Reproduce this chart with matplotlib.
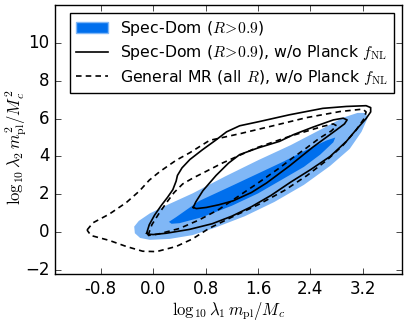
import numpy as np
import matplotlib
matplotlib.use('Agg')
import matplotlib.pyplot as plt
from matplotlib.patches import Patch
from matplotlib.lines import Line2D

# Contour outlines (x = log10 lambda1, y = log10 lambda2)
spec95_x = [-0.29, -0.28, -0.20, -0.05, 0.25, 0.60, 0.95, 1.40, 1.85, 2.30, 2.70, 3.00, 3.18, 3.27, 3.25, 3.12, 2.90, 2.60, 2.10, 1.60, 1.10, 0.60, 0.25, -0.05, -0.22]
spec95_y = [0.30, -0.05, -0.30, -0.40, -0.35, -0.15, 0.25, 0.85, 1.60, 2.50, 3.50, 4.40, 5.30, 6.00, 6.30, 6.30, 6.05, 5.50, 4.60, 3.80, 2.95, 2.05, 1.50, 1.00, 0.60]

spec68_x = [0.24, 0.35, 0.70, 1.20, 1.60, 2.00, 2.40, 2.65, 2.78, 2.75, 2.55, 2.30, 1.90, 1.60, 1.20, 0.75, 0.40, 0.28]
spec68_y = [0.55, 0.80, 1.65, 2.45, 3.10, 3.75, 4.45, 4.85, 5.00, 4.75, 4.10, 3.45, 2.65, 2.05, 1.40, 0.80, 0.48, 0.45]

noplanck95_x = [-0.10, -0.06, 0.02, 0.12, 0.22, 0.30, 0.35, 0.37, 0.44, 0.56, 0.75, 0.95, 1.12, 1.32, 1.63, 2.08, 2.59, 2.95, 3.25, 3.32, 3.32, 3.25, 3.12, 2.95, 2.70, 2.40, 2.10, 1.80, 1.50, 1.20, 0.90, 0.55, 0.20, 0.00, -0.08, -0.10]
noplanck95_y = [-0.05, 0.40, 0.90, 1.40, 1.85, 2.25, 2.70, 3.00, 3.40, 3.84, 4.35, 4.85, 5.30, 5.62, 5.85, 6.20, 6.54, 6.64, 6.68, 6.58, 6.35, 6.00, 5.50, 4.80, 4.00, 3.30, 2.65, 1.95, 1.35, 0.85, 0.45, 0.15, -0.05, -0.12, -0.10, -0.05]

noplanck68_x = [0.61, 0.65, 0.76, 0.96, 1.15, 1.32, 1.60, 1.93, 2.14, 2.44, 2.75, 2.90, 2.96, 2.92, 2.80, 2.44, 2.08, 1.73, 1.50, 1.22, 1.00, 0.81, 0.66, 0.61]
noplanck68_y = [1.31, 1.60, 2.20, 3.00, 3.65, 4.10, 4.45, 4.80, 5.15, 5.55, 5.93, 6.02, 5.93, 5.72, 5.41, 4.50, 3.50, 2.60, 2.10, 1.66, 1.45, 1.31, 1.25, 1.31]

general95_x = [-1.01, -0.92, -0.67, -0.41, -0.21, -0.06, 0.10, 0.35, 0.56, 0.86, 1.32, 1.83, 2.34, 2.85, 3.20, 3.25, 3.22, 3.10, 2.90, 2.65, 2.35, 2.00, 1.60, 1.20, 0.85, 0.60, 0.35, 0.05, -0.16, -0.41, -0.67, -0.95, -1.01]
general95_y = [0.12, 0.50, 0.96, 1.57, 2.18, 2.75, 3.20, 3.80, 4.20, 4.85, 5.20, 5.62, 6.05, 6.37, 6.50, 6.35, 6.00, 5.40, 4.60, 3.80, 3.00, 2.20, 1.45, 0.80, 0.20, -0.35, -0.75, -1.02, -1.00, -0.75, -0.43, -0.17, 0.12]

general68_x = [-0.08, -0.02, 0.08, 0.20, 0.32, 0.45, 0.60, 0.80, 1.06, 1.57, 2.08, 2.59, 2.75, 2.80, 2.72, 2.54, 2.34, 2.13, 1.93, 1.60, 1.30, 1.00, 0.70, 0.40, 0.07, -0.08]
general68_y = [-0.17, 0.40, 0.95, 1.55, 2.10, 2.55, 2.85, 3.20, 3.66, 4.45, 5.06, 5.59, 5.72, 5.62, 5.35, 4.97, 4.45, 3.93, 3.40, 2.60, 1.90, 1.20, 0.65, 0.20, -0.10, -0.17]

xticks = [-0.8, 0.0, 0.8, 1.6, 2.4, 3.2]
yticks = [-2, 0, 2, 4, 6, 8, 10]

dark_blue = '#006FED'
light_blue = '#80B7F6'
dash = (4, 3)

plt.style.use('classic')
plt.rcParams['mathtext.fontset'] = 'cm'

fig = plt.figure(figsize=(4.07, 3.25), dpi=100, facecolor='white')
ax = fig.add_axes([0.135, 0.157, 0.853, 0.828])

ax.fill(spec95_x, spec95_y, color=light_blue, lw=0)
ax.fill(spec68_x, spec68_y, color=dark_blue, lw=0)
ax.plot(noplanck95_x, noplanck95_y, 'k-', lw=1.2)
ax.plot(noplanck68_x, noplanck68_y, 'k-', lw=1.2)
ax.plot(general95_x, general95_y, 'k--', lw=1.2, dashes=dash)
ax.plot(general68_x, general68_y, 'k--', lw=1.2, dashes=dash)

ax.set_xlim(-1.5, 3.8)
ax.set_ylim(-2.2, 12)
ax.set_xticks(xticks)
ax.set_xticklabels(['%.1f' % t for t in xticks])
ax.set_yticks(yticks)
ax.tick_params(labelsize=12)

ax.set_xlabel(r'$\log_{10}\lambda_1\,m_{\rm pl}/M_c$', fontsize=12)
ax.set_ylabel(r'$\log_{10}\lambda_2\,m_{\rm pl}^2/M_c^2$', fontsize=12)
ax.xaxis.set_label_coords(0.5, -0.095)
ax.yaxis.set_label_coords(-0.075, 0.47)

handles = [Patch(facecolor=dark_blue, edgecolor=light_blue),
           Line2D([], [], color='k', ls='-', lw=1.2),
           Line2D([], [], color='k', ls='--', lw=1.2, dashes=dash)]
labels = [r'Spec-Dom ($R\!>\!0.9$)',
          r'Spec-Dom ($R\!>\!0.9$), w/o Planck $f_{\rm NL}$',
          r'General MR (all $R$), w/o Planck $f_{\rm NL}$']
ax.legend(handles, labels, loc='upper right', fontsize=11.3, numpoints=1,
          handlelength=2.0, labelspacing=0.35, frameon=True, fancybox=False)

fig.savefig('out.png', dpi=100, facecolor='white')
